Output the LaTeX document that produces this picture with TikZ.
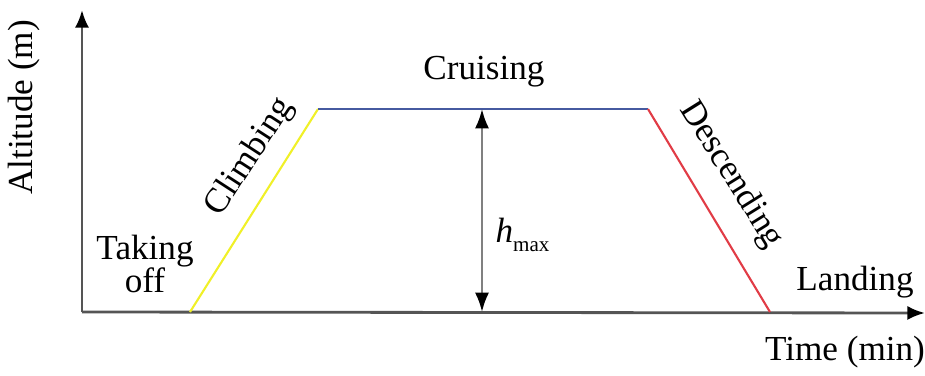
\documentclass[tikz,border=0pt]{standalone}
\usepackage{fontspec}
\setmainfont{Liberation Serif}
\usetikzlibrary{arrows.meta}

\definecolor{axisgray}{RGB}{85,85,85}
\definecolor{climbyellow}{RGB}{240,240,40}
\definecolor{cruiseblue}{RGB}{70,90,160}
\definecolor{descred}{RGB}{225,60,70}

\begin{document}
\begin{tikzpicture}[
    axis/.style={-{Latex[length=10pt,width=8pt,color=black]}, line width=1.6pt, axisgray},
    phase/.style={line width=1.2pt},
    hgt/.style={{Latex[length=11pt,width=8pt,color=black]}-{Latex[length=11pt,width=8pt,color=black]}, line width=1.4pt, gray},
    lbl/.style={font=\fontsize{20}{22}\selectfont, inner sep=0pt}
    ]
    \useasboundingbox (0,0) rectangle (18.5,7.5);

    \coordinate (O) at (1.64,1.26);
    \coordinate (Ytop) at (1.64,7.3);
    \coordinate (Xend) at (18.5,1.24);
    \coordinate (A) at (3.8,1.26);
    \coordinate (B) at (6.36,5.32);
    \coordinate (C) at (12.96,5.32);
    \coordinate (D) at (15.4,1.26);
    \coordinate (Htop) at (9.64,5.32);
    \coordinate (Hbot) at (9.64,1.26);

    \node[lbl, rotate=90] (alt) at (0.48,5.35) {Altitude (m)};
    \node[lbl, align=center] (take) at (2.9,2.22) {Taking\\[-3pt]off};
    \node[lbl, rotate=57] (climb) at (5.0,4.36) {Climbing};
    \node[lbl] (cruise) at (9.68,6.06) {Cruising};
    \node[lbl] (hmax) at (10.45,2.8) {\textit{h}\raisebox{-5pt}{\fontsize{12}{12}\selectfont max}};
    \node[lbl, rotate=-58] (desc) at (14.62,4.0) {Descending};
    \node[lbl] (land) at (17.1,1.86) {Landing};
    \node[lbl] (time) at (16.9,0.46) {Time (min)};

    \draw[axis] (O) -- (Ytop);
    \draw[axis] (O) -- (Xend);
    \draw[phase, climbyellow] (A) -- (B);
    \draw[phase, cruiseblue] (B) -- (C);
    \draw[phase, descred] (C) -- (D);
    \draw[hgt] (Htop) -- (Hbot);

\end{tikzpicture}
\end{document}
